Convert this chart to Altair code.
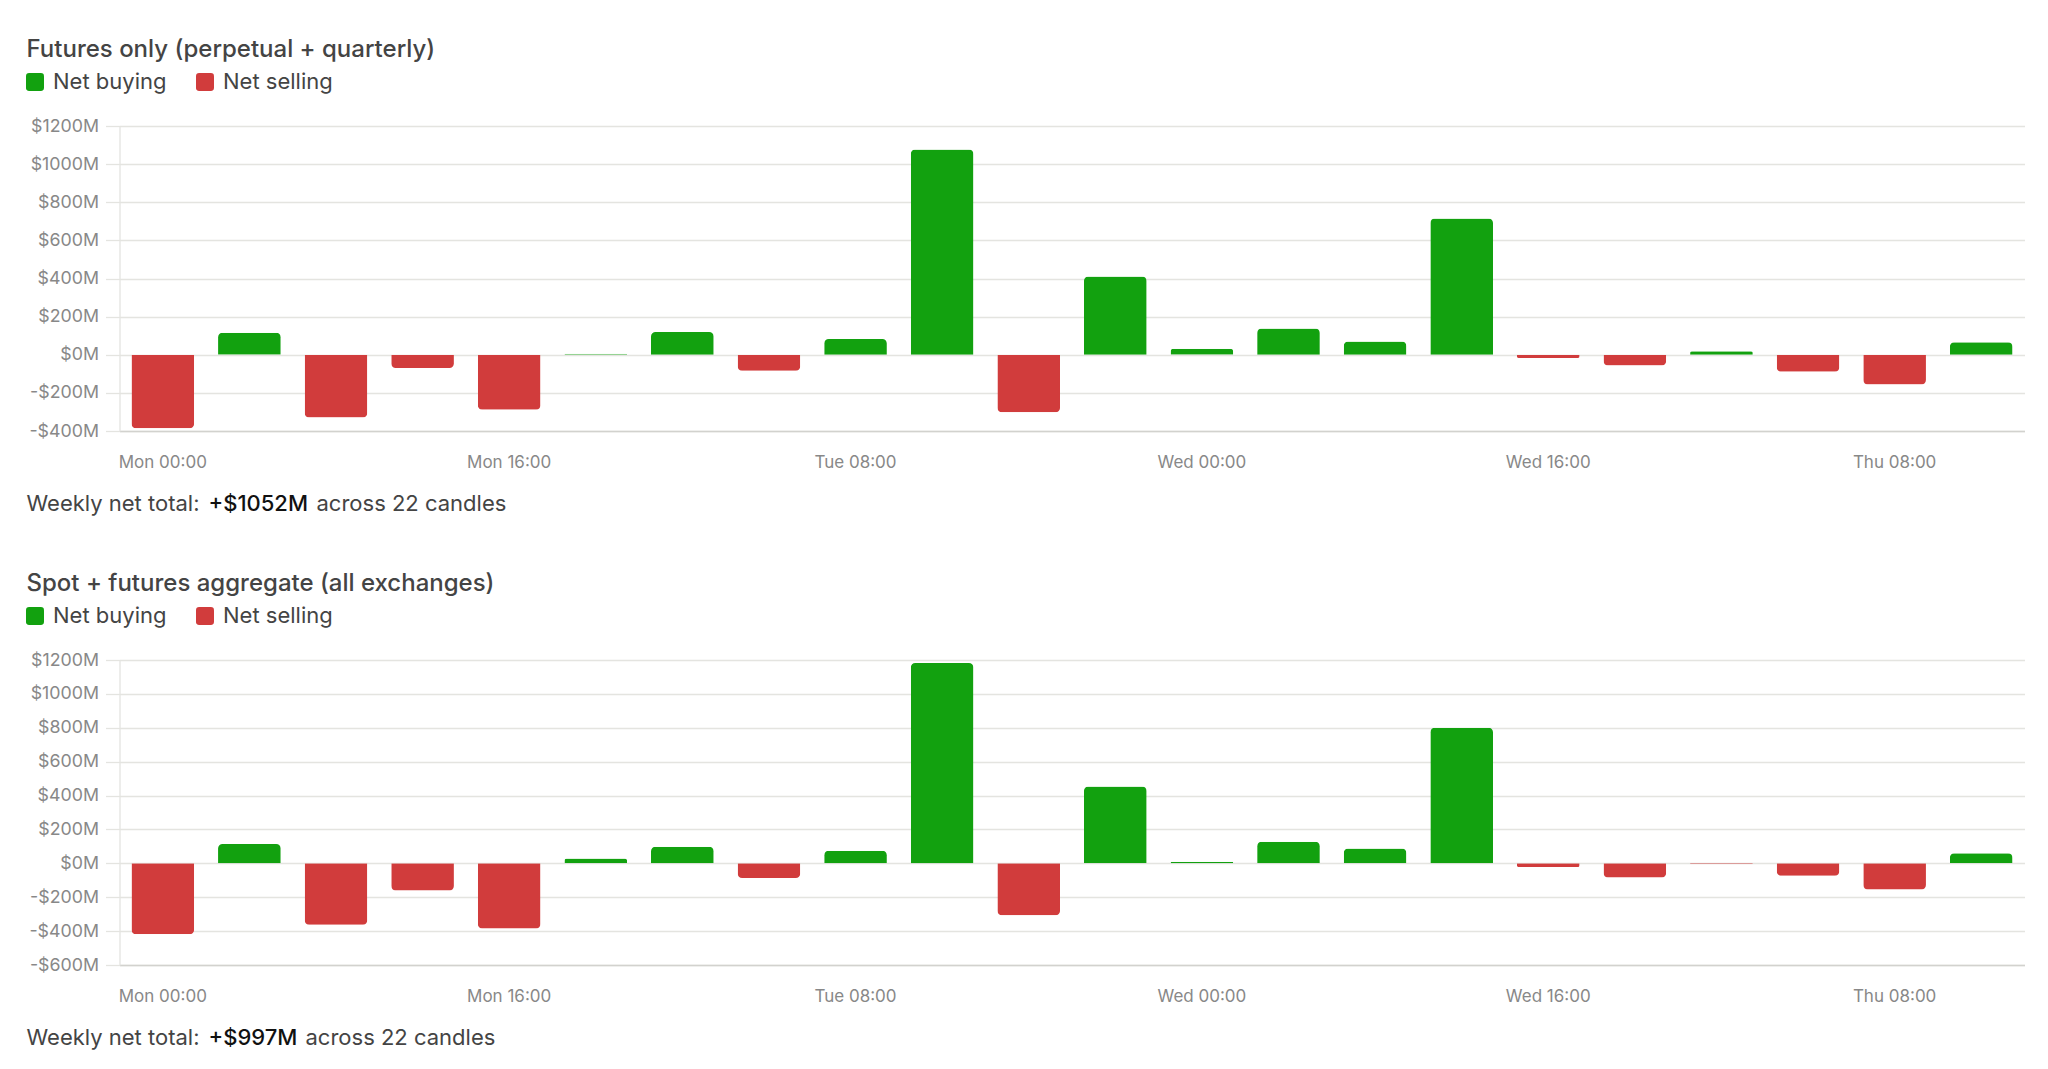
import altair as alt
import pandas as pd

# ---- data ----
candles = [
    "Mon 00:00", "Mon 04:00", "Mon 08:00", "Mon 12:00", "Mon 16:00", "Mon 20:00",
    "Tue 00:00", "Tue 04:00", "Tue 08:00", "Tue 12:00", "Tue 16:00", "Tue 20:00",
    "Wed 00:00", "Wed 04:00", "Wed 08:00", "Wed 12:00", "Wed 16:00", "Wed 20:00",
    "Thu 00:00", "Thu 04:00", "Thu 08:00", "Thu 12:00",
]
futures_net = [-386, 115, -329, -70, -288, 5, 119, -84, 82, 1077, -301, 411,
               31, 138, 70, 715, -17, -56, 19, -89, -156, 65]
aggregate_net = [-419, 114, -362, -161, -385, 28, 98, -87, 75, 1182, -307, 454,
                 10, 128, 87, 800, -22, -83, -5, -73, -155, 59]

x_label_values = ["Mon 00:00", "Mon 16:00", "Tue 08:00", "Wed 00:00", "Wed 16:00", "Thu 08:00"]
y_ticks_futures = [-400, -200, 0, 200, 400, 600, 800, 1000, 1200]
y_ticks_aggregate = [-600, -400, -200, 0, 200, 400, 600, 800, 1000, 1200]

series_names = ["Net buying", "Net selling"]
series_colors = ["#12a10f", "#d13c3c"]

panel_titles = ["Futures only (perpetual + quarterly)",
                "Spot + futures aggregate (all exchanges)"]
total_prefix = "Weekly net total: "
panel_totals = ["+$1052M", "+$997M"]
total_suffix = "across 22 candles"
suffix_x = [197, 186]

FONT = "Inter"
W, H = 1905, 305
GRID = "#e4e4e0"
ROUNDED_SQUARE = ("M -0.65 -1 L 0.65 -1 Q 1 -1 1 -0.65 L 1 0.65 Q 1 1 0.65 1 "
                  "L -0.65 1 Q -1 1 -1 0.65 L -1 -0.65 Q -1 -1 -0.65 -1 Z")


def text_layer(t, x, y, size, color, weight=400):
    return alt.Chart(pd.DataFrame({"t": [t]})).mark_text(
        align="left", baseline="alphabetic", font=FONT, fontSize=size,
        fontWeight=weight, color=color
    ).encode(x=alt.value(x), y=alt.value(y), text="t:N")


def panel(values, ticks, title, total, sx):
    df = pd.DataFrame({
        "candle": candles,
        "net": values,
        "side": ["Net buying" if v >= 0 else "Net selling" for v in values],
    })
    base = alt.Chart(df)
    x = alt.X(
        "candle:N", sort=candles,
        scale=alt.Scale(paddingInner=0.276, paddingOuter=0.138),
        axis=alt.Axis(values=x_label_values, title=None, labelAngle=0, ticks=False,
                      tickSize=0, labelPadding=23.5, grid=False,
                      domainColor="#d2d2ce", domainWidth=1.5,
                      labelFont=FONT, labelFontSize=17, labelColor="#888888"),
    )
    y = alt.Y(
        "net:Q",
        scale=alt.Scale(domain=[ticks[0], ticks[-1]], nice=False, zero=True),
        axis=alt.Axis(values=ticks, title=None, grid=True, gridColor=GRID, gridWidth=1.3,
                      domainColor=GRID, domainWidth=1.3, tickColor=GRID, tickWidth=1.3,
                      tickSize=14, labelPadding=7, labelFont=FONT, labelFontSize=17.8,
                      labelColor="#888888",
                      labelExpr="datum.value < 0 ? '-$' + abs(datum.value) + 'M' : '$' + datum.value + 'M'"),
    )
    color = alt.Color(
        "side:N",
        scale=alt.Scale(domain=series_names, range=series_colors),
        legend=alt.Legend(orient="none", legendX=-95.5, legendY=-55, direction="horizontal",
                          title=None, padding=0, symbolType=ROUNDED_SQUARE, symbolSize=324,
                          symbolStrokeWidth=0, labelFont=FONT, labelFontSize=22,
                          labelColor="#444444", labelOffset=7, columnPadding=27,
                          labelLimit=0),
    )
    pos = base.transform_filter("datum.net >= 0").mark_bar(
        cornerRadiusTopLeft=4.5, cornerRadiusTopRight=4.5
    ).encode(x=x, y=y, color=color)
    neg = base.transform_filter("datum.net < 0").mark_bar(
        cornerRadiusBottomLeft=4.5, cornerRadiusBottomRight=4.5
    ).encode(x=x, y=y, color=color)

    return alt.layer(
        pos, neg,
        text_layer(title, -93, -69, 24, "#444444", 500),
        text_layer(total_prefix, -93, 385, 22, "#444444"),
        text_layer(total, 89, 385, 22, "#111111", 500),
        text_layer(total_suffix, sx, 385, 22, "#444444"),
    ).properties(width=W, height=H)


p1 = panel(futures_net, y_ticks_futures, panel_titles[0], panel_totals[0], suffix_x[0])
p2 = panel(aggregate_net, y_ticks_aggregate, panel_titles[1], panel_totals[1], suffix_x[1])

chart = alt.vconcat(p1, p2, spacing=229, bounds="flush").resolve_scale(
    x="independent", y="independent", color="independent"
).resolve_legend(color="independent").properties(
    padding={"left": 15.5, "top": 30, "right": 5, "bottom": 5}
).configure_view(strokeWidth=0)

chart.save("out.html", embed_options={"renderer": "svg", "actions": False})
